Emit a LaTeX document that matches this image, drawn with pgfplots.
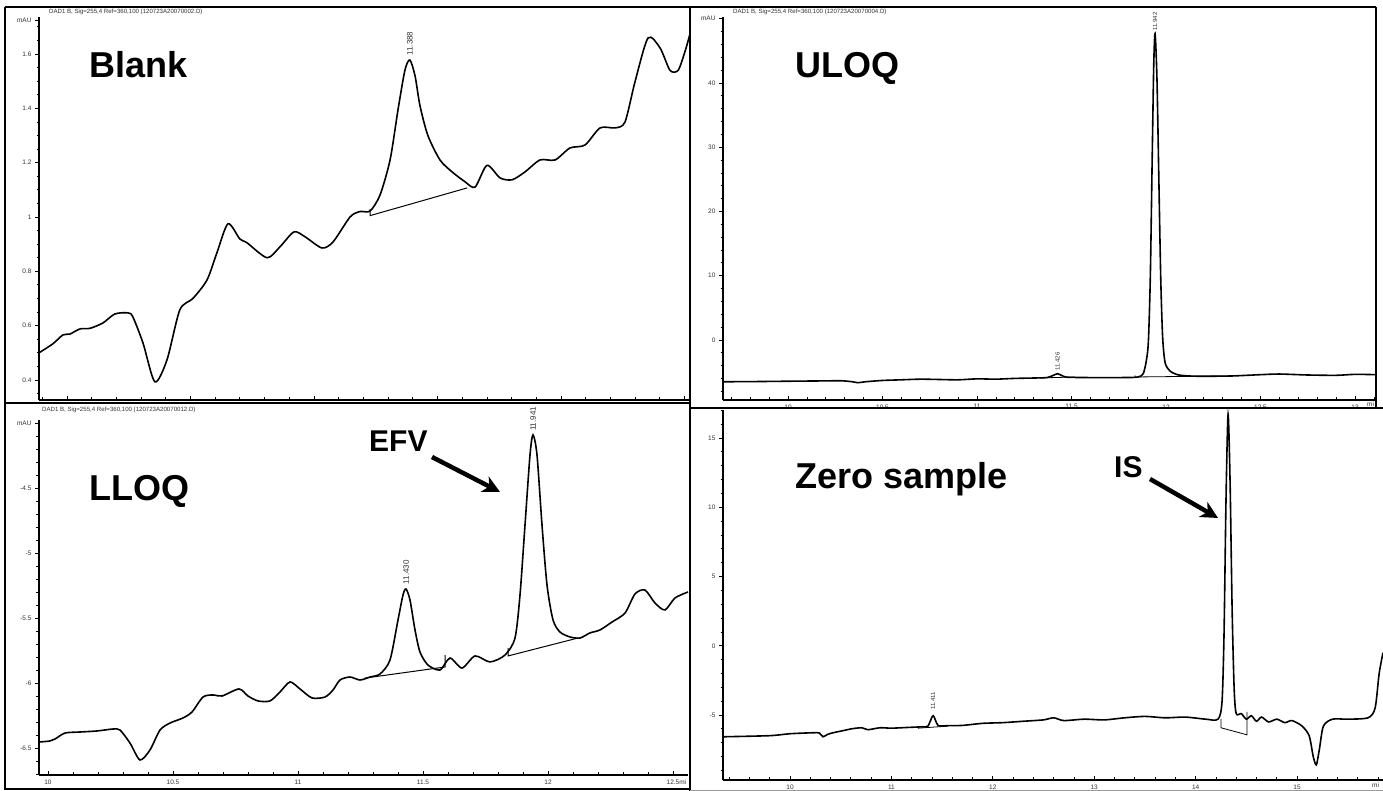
\documentclass[border=0pt]{standalone}
\usepackage{fontspec}
\setmainfont{Liberation Sans}
\usepackage{pgfplots}
\pgfplotsset{compat=1.18}
\usetikzlibrary{arrows.meta}

\pgfplotsset{
 chrom/.style={
  scale only axis, anchor=south west,
  axis lines=left,
  axis line style={-, line width=1.3pt, black},
  xtick align=inside, ytick align=outside,
  every tick/.append style={line width=0.8pt, black},
  major tick length=4pt, minor tick length=2.5pt,
  tick label style={font=\fontsize{6.5}{6.5}\selectfont, text=black!80},
  xticklabel style={yshift=-1pt},
  clip=false,
 },
 trace/.style={black, line width=1.6pt, smooth, tension=0.45, mark=none},
}

\begin{document}
\begin{tikzpicture}
\useasboundingbox (0pt,0pt) rectangle (1383pt,791pt);
\fill[white] (0pt,0pt) rectangle (1383pt,791pt);

% ---------------- Blank ----------------
\begin{axis}[chrom, at={(39pt,391pt)}, width=651pt, height=383pt,
  xmin=9.887, xmax=12.522, ymin=0.3263, ymax=1.7363,
  xtick={10,10.5,11,11.5,12,12.5}, xticklabels={},
  minor xtick={9.9,10,...,12.5},
  ytick={0.4,0.6,0.8,1,1.2,1.4,1.6}, yticklabels={0.4,0.6,0.8,1,1.2,1.4,1.6},
  extra y ticks={1.725}, extra y tick labels={mAU},
  minor ytick={0.35,0.4,...,1.71}]
\addplot[trace] coordinates {
(9.887,0.50) (9.943,0.533) (9.984,0.566) (10.012,0.569) (10.053,0.588) (10.093,0.59)
(10.146,0.61) (10.194,0.643) (10.247,0.647) (10.267,0.632) (10.308,0.536) (10.356,0.393)
(10.405,0.474) (10.457,0.658) (10.510,0.70) (10.567,0.768) (10.607,0.868) (10.652,0.975)
(10.700,0.919) (10.729,0.905) (10.810,0.85) (10.862,0.89) (10.919,0.945) (10.964,0.927)
(11.032,0.886) (11.077,0.908) (11.146,1.0) (11.186,1.020) (11.227,1.022) (11.267,1.08)
(11.308,1.21) (11.34,1.394) (11.368,1.54) (11.388,1.578) (11.409,1.52) (11.429,1.41)
(11.461,1.30) (11.51,1.21) (11.559,1.166) (11.611,1.13) (11.652,1.11) (11.700,1.19)
(11.753,1.144) (11.802,1.137) (11.854,1.166) (11.915,1.21) (11.976,1.21) (12.036,1.254)
(12.097,1.265) (12.158,1.328) (12.219,1.328) (12.259,1.35) (12.300,1.5) (12.352,1.659)
(12.401,1.622) (12.441,1.54) (12.474,1.54) (12.502,1.61) (12.522,1.674)
};
\draw[line width=1pt] (axis cs:11.227,1.03) -- (axis cs:11.227,1.005) -- (axis cs:11.62,1.107);
\node[rotate=90, anchor=west, inner sep=1pt, font=\fontsize{8}{8}\selectfont, text=black!80] at (axis cs:11.388,1.59) {11.388};
\end{axis}

% ---------------- LLOQ ----------------
\begin{axis}[chrom, at={(39pt,16pt)}, width=649pt, height=355pt,
  xmin=9.964, xmax=12.56, ymin=-6.7077, ymax=-3.977,
  xtick={10,10.5,11,11.5,12,12.5}, xticklabels={10,10.5,11,11.5,12,12.5\rlap{mi}},
  minor xtick={10,10.1,...,12.55},
  ytick={-6.5,-6,-5.5,-5,-4.5,-4}, yticklabels={-6.5,-6,-5.5,-5,-4.5,mAU},
  minor ytick={-6.7,-6.6,...,-3.95}]
\addplot[trace] coordinates {
(9.964,-6.454) (10.008,-6.446) (10.028,-6.431) (10.068,-6.385) (10.128,-6.377) (10.196,-6.369)
(10.26,-6.354) (10.288,-6.362) (10.328,-6.462) (10.368,-6.592) (10.408,-6.515) (10.448,-6.362)
(10.488,-6.308) (10.54,-6.269) (10.576,-6.223) (10.62,-6.108) (10.66,-6.092) (10.696,-6.10)
(10.764,-6.046) (10.80,-6.10) (10.84,-6.138) (10.888,-6.138) (10.928,-6.069) (10.968,-5.992)
(11.008,-6.046) (11.056,-6.115) (11.108,-6.108) (11.14,-6.054) (11.168,-5.977) (11.208,-5.954)
(11.248,-5.977) (11.288,-5.954) (11.328,-5.931) (11.368,-5.823) (11.40,-5.515) (11.42,-5.323)
(11.432,-5.277) (11.448,-5.362) (11.468,-5.592) (11.488,-5.762) (11.52,-5.862) (11.568,-5.9)
(11.608,-5.808) (11.656,-5.885) (11.708,-5.792) (11.768,-5.838) (11.828,-5.785) (11.868,-5.654)
(11.888,-5.323) (11.908,-4.785) (11.928,-4.246) (11.94,-4.092) (11.956,-4.246) (11.976,-4.785)
(11.996,-5.246) (12.02,-5.515) (12.048,-5.608) (12.088,-5.646) (12.128,-5.654) (12.168,-5.615)
(12.208,-5.592) (12.256,-5.531) (12.308,-5.462) (12.348,-5.315) (12.388,-5.285) (12.428,-5.385)
(12.468,-5.438) (12.508,-5.346) (12.56,-5.3)
};
\draw[line width=1pt] (axis cs:11.268,-5.962) -- (axis cs:11.588,-5.877) -- (axis cs:11.588,-5.785);
\draw[line width=1pt] (axis cs:11.84,-5.73) -- (axis cs:11.84,-5.792) -- (axis cs:12.12,-5.654);
\node[rotate=90, anchor=west, inner sep=1pt, font=\fontsize{8}{8}\selectfont, text=black!80] at (axis cs:11.432,-5.25) {11.430};
\node[rotate=90, anchor=west, inner sep=1pt, font=\fontsize{8}{8}\selectfont, text=black!80] at (axis cs:11.94,-4.07) {11.941};
\end{axis}

% ---------------- ULOQ ----------------
\begin{axis}[chrom, at={(723pt,391pt)}, width=653pt, height=383pt,
  xmin=9.656, xmax=13.111, ymin=-9.34, ymax=50.27,
  xtick={10,10.5,11,11.5,12,12.5,13}, xticklabels={10,10.5,11,11.5,12,12.5,13},
  minor xtick={9.7,9.8,...,13.1},
  ytick={0,10,20,30,40,50}, yticklabels={0,10,20,30,40,mAU},
  minor ytick={-8,-6,...,50}]
\addplot[trace] coordinates {
(9.656,-6.5) (9.8,-6.48) (10.0,-6.42) (10.15,-6.38) (10.28,-6.35) (10.34,-6.5) (10.37,-6.65)
(10.41,-6.5) (10.5,-6.3) (10.6,-6.2) (10.7,-6.1) (10.8,-6.15) (10.9,-6.2) (11.0,-6.05)
(11.1,-6.1) (11.2,-5.98) (11.3,-5.92) (11.37,-5.85) (11.40,-5.55) (11.426,-5.25) (11.45,-5.55)
(11.48,-5.8) (11.6,-5.85) (11.75,-5.85) (11.85,-5.78) (11.88,-5.2) (11.897,-3.0) (11.907,0.0)
(11.917,10.0) (11.927,28.7) (11.935,42.8) (11.942,47.7) (11.952,40.7) (11.962,25.0) (11.972,9.6)
(11.982,0.5) (11.995,-3.5) (12.02,-4.8) (12.06,-5.4) (12.12,-5.6) (12.2,-5.65) (12.35,-5.6)
(12.5,-5.4) (12.6,-5.3) (12.75,-5.45) (12.9,-5.5) (13.0,-5.35) (13.111,-5.4)
};
\draw[line width=0.8pt] (axis cs:11.333,-5.91) -- (axis cs:11.519,-5.76);
\draw[line width=0.8pt] (axis cs:11.836,-5.5) -- (axis cs:11.836,-5.76) -- (axis cs:12.328,-5.6);
\node[rotate=90, anchor=west, inner sep=1pt, font=\fontsize{6}{6}\selectfont, text=black!80] at (axis cs:11.426,-4.9) {11.426};
\node[rotate=90, anchor=west, inner sep=1pt, font=\fontsize{6}{6}\selectfont, text=black!80] at (axis cs:11.942,48.0) {11.942};
\end{axis}

% ---------------- Zero sample ----------------
\begin{axis}[chrom, clip=true, at={(723pt,11pt)}, width=660pt, height=370pt,
  xmin=9.339, xmax=15.848, ymin=-9.69, ymax=17.02,
  xtick={10,11,12,13,14,15}, xticklabels={10,11,12,13,14,15},
  minor xtick={9.4,9.6,...,15.8},
  ytick={-5,0,5,10,15}, yticklabels={-5,0,5,10,15},
  minor ytick={-9,-8,...,17}]
\addplot[trace] coordinates {
(9.339,-6.57) (9.8,-6.49) (10.0,-6.35) (10.227,-6.28) (10.29,-6.3) (10.325,-6.57) (10.37,-6.4)
(10.424,-6.28) (10.522,-6.13) (10.611,-5.99) (10.709,-5.92) (10.768,-6.06) (10.887,-5.92)
(11.0,-5.95) (11.15,-5.9) (11.3,-5.85) (11.36,-5.8) (11.411,-5.05) (11.46,-5.75) (11.55,-5.77)
(11.7,-5.75) (11.9,-5.6) (12.1,-5.55) (12.3,-5.45) (12.5,-5.35) (12.6,-5.2) (12.7,-5.4)
(12.9,-5.3) (13.1,-5.35) (13.3,-5.2) (13.5,-5.1) (13.7,-5.2) (13.9,-5.15) (14.1,-5.3)
(14.22,-5.3) (14.26,-4.07) (14.28,0.8) (14.30,10.7) (14.32,16.7) (14.34,11.75) (14.36,2.6)
(14.38,-3.1) (14.40,-4.9) (14.45,-4.9) (14.5,-5.3) (14.55,-5.05) (14.6,-5.45) (14.65,-5.15)
(14.72,-5.5) (14.8,-5.3) (14.88,-5.55) (14.95,-5.4) (15.05,-5.8) (15.12,-6.5) (15.16,-8.0)
(15.19,-8.6) (15.22,-7.5) (15.26,-5.8) (15.35,-5.3) (15.5,-5.3) (15.7,-5.2) (15.77,-4.5)
(15.81,-2.0) (15.848,-0.5)
};
\draw[line width=0.8pt] (axis cs:11.26,-5.95) -- (axis cs:11.56,-5.8);
\draw[line width=0.8pt] (axis cs:14.25,-5.3) -- (axis cs:14.25,-5.92) -- (axis cs:14.507,-6.43) -- (axis cs:14.507,-4.77);
\node[rotate=90, anchor=west, inner sep=1pt, font=\fontsize{6}{6}\selectfont, text=black!80] at (axis cs:11.411,-4.7) {11.411};
\node[rotate=90, anchor=west, inner sep=1pt, font=\fontsize{6}{6}\selectfont, text=black!80] at (axis cs:14.32,16.9) {14.320};
\end{axis}

% ---------------- frames ----------------
\draw[line width=1.6pt] (5pt,784pt) -- (1376pt,784pt);
\draw[line width=1.6pt] (5pt,784pt) -- (5pt,2pt) -- (690pt,2pt);
\draw[line width=1.8pt] (5pt,388pt) -- (690pt,388pt);
\draw[line width=2pt] (690pt,784pt) -- (690pt,0pt);
\draw[line width=1.8pt] (690pt,383pt) -- (1383pt,383pt);
\draw[line width=1.6pt] (1376pt,784pt) -- (1376pt,383pt);
\draw[line width=0.6pt, black!40] (690pt,0.5pt) -- (1383pt,0.5pt);

% ---------------- headers ----------------
\node[anchor=west, inner sep=0pt, font=\fontsize{6.1}{6.5}\selectfont, text=black!80] at (49pt,779pt) {DAD1 B, Sig=255,4 Ref=360,100 (120723A20070002.D)};
\node[anchor=west, inner sep=0pt, font=\fontsize{6.1}{6.5}\selectfont, text=black!80] at (42pt,381pt) {DAD1 B, Sig=255,4 Ref=360,100 (120723A20070012.D)};
\node[anchor=west, inner sep=0pt, font=\fontsize{6.1}{6.5}\selectfont, text=black!80] at (733pt,779pt) {DAD1 B, Sig=255,4 Ref=360,100 (120723A20070004.D)};
\node[anchor=north west, inner sep=0pt, font=\fontsize{6.5}{6.5}\selectfont, text=black!80] at (1367pt,389pt) {mi};
\node[anchor=north west, inner sep=0pt, font=\fontsize{6.5}{6.5}\selectfont, text=black!80] at (1372pt,8pt) {mi};

% ---------------- big labels ----------------
\node[anchor=base west, inner sep=0pt, font=\fontsize{36}{36}\selectfont\bfseries] at (89pt,713pt) {Blank};
\node[anchor=base west, inner sep=0pt, font=\fontsize{36}{36}\selectfont\bfseries] at (89pt,290pt) {LLOQ};
\node[anchor=base west, inner sep=0pt, font=\fontsize{36}{36}\selectfont\bfseries] at (795pt,713pt) {ULOQ};
\node[anchor=base west, inner sep=0pt, font=\fontsize{36}{36}\selectfont\bfseries] at (795pt,302pt) {Zero sample};
\node[anchor=base west, inner sep=0pt, font=\fontsize{30}{30}\selectfont\bfseries] at (369pt,339pt) {EFV};
\node[anchor=base west, inner sep=0pt, font=\fontsize{30}{30}\selectfont\bfseries] at (1114pt,313pt) {IS};
\draw[line width=4.5pt, -{Stealth[length=17pt, width=17pt, inset=5pt]}] (432pt,334pt) -- (500pt,299pt);
\draw[line width=4.5pt, -{Stealth[length=17pt, width=17pt, inset=5pt]}] (1150pt,312pt) -- (1218pt,273pt);
\end{tikzpicture}
\end{document}
